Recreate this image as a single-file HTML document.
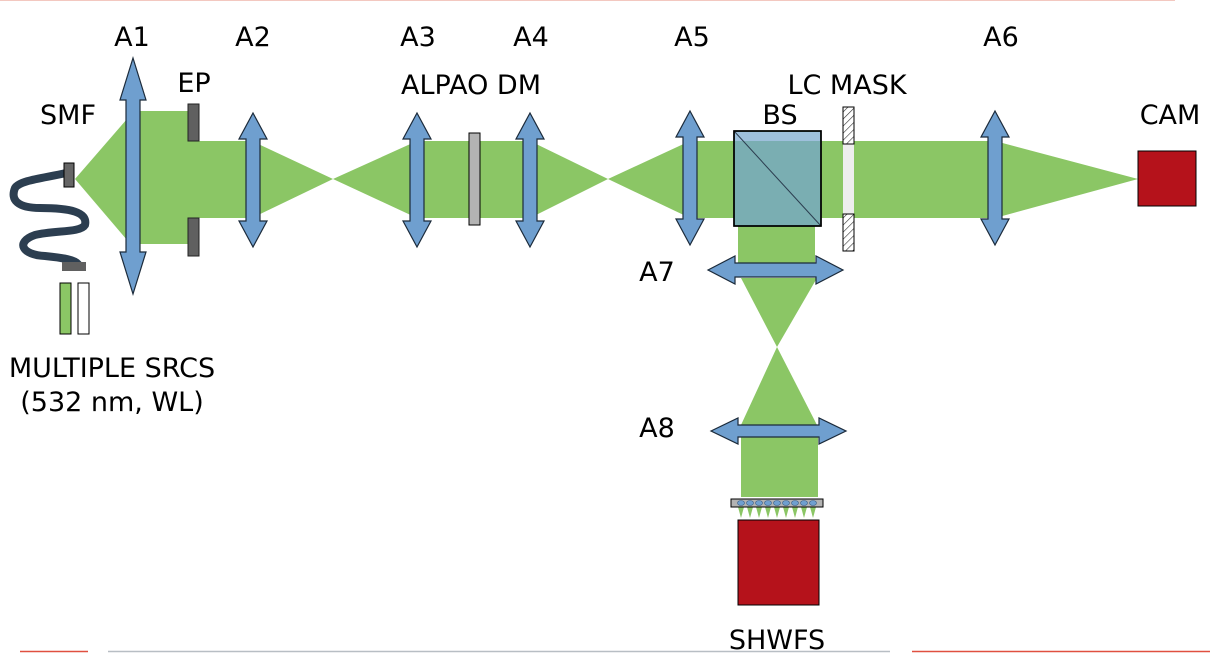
<!DOCTYPE html>
<html><head><meta charset="utf-8"><style>
html,body{margin:0;padding:0;background:#fff;}
svg{display:block;}
text{font-family:"DejaVu Sans","Liberation Sans",sans-serif;font-size:27px;fill:#000;}
</style></head><body>
<svg width="1214" height="653" viewBox="0 0 1214 653" xmlns="http://www.w3.org/2000/svg">
<defs>
<pattern id="hat" width="5" height="5" patternUnits="userSpaceOnUse" patternTransform="rotate(45)">
<rect width="5" height="5" fill="#fff"/><line x1="0" y1="0" x2="0" y2="5" stroke="#333" stroke-width="1.2"/>
</pattern>
</defs>
<line x1="0" y1="0.5" x2="1175" y2="0.5" stroke="#f3c8c0" stroke-width="1"/>
<g fill="#8bc665">
<polygon points="75,179 127,119 127,240"/>
<rect x="127" y="111" width="63" height="133"/>
<rect x="190" y="141" width="62" height="77"/>
<polygon points="252,141 333,179 252,218"/>
<polygon points="333,179 417,141 417,218"/>
<rect x="417" y="141" width="113" height="77"/>
<polygon points="530,141 608,179 530,218"/>
<polygon points="608,179 690,141 690,218"/>
<rect x="690" y="141" width="305" height="77"/>
<polygon points="995,141 1138,179 995,218"/>
<rect x="738" y="226" width="77" height="40"/>
<polygon points="741,278 817,278 777,347"/>
<polygon points="777,347 741,425 817,425"/>
<rect x="741" y="425" width="77" height="72"/>
</g>
<g fill="#8bc665">
<polygon points="738,507 744,507 741,518"/><polygon points="747,507 753,507 750,518"/><polygon points="756,507 762,507 759,518"/><polygon points="765,507 771,507 768,518"/><polygon points="774,507 780,507 777,518"/><polygon points="783,507 789,507 786,518"/><polygon points="792,507 798,507 795,518"/><polygon points="801,507 807,507 804,518"/><polygon points="810,507 816,507 813,518"/>
</g>
<rect x="843" y="144" width="11" height="70" fill="#eeeeee"/>
<rect x="843" y="107" width="11" height="37" fill="url(#hat)" stroke="#000"/>
<rect x="843" y="214" width="11" height="37" fill="url(#hat)" stroke="#000"/>
<rect x="734" y="131" width="87" height="95" fill="#7aaeb2" stroke="#000" stroke-width="1.5"/>
<rect x="735" y="132" width="85" height="9" fill="#9ec0dc"/>
<line x1="734" y1="131" x2="821" y2="226" stroke="#2c3e50" stroke-width="1"/>
<rect x="734" y="131" width="87" height="95" fill="none" stroke="#000" stroke-width="1.5"/>
<rect x="188" y="104" width="11" height="37" fill="#606060" stroke="#222"/>
<rect x="188" y="218" width="11" height="38" fill="#606060" stroke="#222"/>
<rect x="469" y="133" width="11" height="92" fill="#b3b3b3" stroke="#000"/>
<g fill="#6f9fcf" stroke="#1b2a3a" stroke-width="1.2">
<polygon points="133,58 146,100 140,100 140,252 146,252 133,294 120,252 126,252 126,100 120,100"/>
<polygon points="253,113 267,139 260,139 260,221 267,221 253,247 239,221 246,221 246,139 239,139"/>
<polygon points="417,113 431,139 424,139 424,221 431,221 417,247 403,221 410,221 410,139 403,139"/>
<polygon points="530,113 544,139 537,139 537,221 544,221 530,247 516,221 523,221 523,139 516,139"/>
<polygon points="690,111 704,137 697,137 697,219 704,219 690,245 676,219 683,219 683,137 676,137"/>
<polygon points="995,111 1009,137 1002,137 1002,219 1009,219 995,245 981,219 988,219 988,137 981,137"/>
<polygon points="708,270 735,256 735,263 816,263 816,256 843,270 816,284 816,277 735,277 735,284"/>
<polygon points="711,431 738,418 738,425 819,425 819,418 846,431 819,444 819,437 738,437 738,444"/>
</g>
<path d="M66,173 C45,178 20,180 15,188 C10,200 18,208 40,208 C70,208 88,212 85,225 C80,233 55,230 35,235 C15,242 22,255 45,256 C65,258 75,260 78,264" fill="none" stroke="#2c3e50" stroke-width="8" stroke-linecap="round"/>
<rect x="64" y="163" width="10" height="24" fill="#666" stroke="#000"/>
<rect x="62" y="262" width="24" height="9" fill="#606060"/>
<rect x="60" y="283" width="11" height="51" fill="#8bc665" stroke="#000"/>
<rect x="78" y="283" width="11" height="51" fill="#fff" stroke="#000"/>
<rect x="731" y="499" width="92" height="8" fill="#b3b3b3" stroke="#000"/>
<g fill="#6f9fcf" stroke="#3a5f88" stroke-width="0.6">
<ellipse cx="741" cy="503" rx="3.5" ry="2.5"/><ellipse cx="750" cy="503" rx="3.5" ry="2.5"/><ellipse cx="759" cy="503" rx="3.5" ry="2.5"/><ellipse cx="768" cy="503" rx="3.5" ry="2.5"/><ellipse cx="777" cy="503" rx="3.5" ry="2.5"/><ellipse cx="786" cy="503" rx="3.5" ry="2.5"/><ellipse cx="795" cy="503" rx="3.5" ry="2.5"/><ellipse cx="804" cy="503" rx="3.5" ry="2.5"/><ellipse cx="813" cy="503" rx="3.5" ry="2.5"/>
</g>
<rect x="1138" y="151" width="58" height="55" fill="#b5121b" stroke="#000"/>
<rect x="738" y="520" width="81" height="85" fill="#b5121b" stroke="#000"/>
<g text-anchor="middle">
<text x="132" y="46">A1</text>
<text x="253" y="46">A2</text>
<text x="418" y="46">A3</text>
<text x="531" y="46">A4</text>
<text x="692" y="46">A5</text>
<text x="1001" y="46">A6</text>
<text x="68" y="124">SMF</text>
<text x="194" y="92">EP</text>
<text x="471" y="94">ALPAO DM</text>
<text x="780" y="124">BS</text>
<text x="847" y="94">LC MASK</text>
<text x="1170" y="124">CAM</text>
<text x="657" y="281">A7</text>
<text x="657" y="437">A8</text>
<text x="112" y="377">MULTIPLE SRCS</text>
<text x="112" y="411">(532 nm, WL)</text>
<text x="777" y="649">SHWFS</text>
</g>
<line x1="20" y1="651.5" x2="88" y2="651.5" stroke="#e05040" stroke-width="1.5"/>
<line x1="108" y1="651.5" x2="890" y2="651.5" stroke="#b8bec4" stroke-width="1.5"/>
<line x1="912" y1="651.5" x2="1210" y2="651.5" stroke="#e05040" stroke-width="1.5"/>
</svg>
</body></html>
